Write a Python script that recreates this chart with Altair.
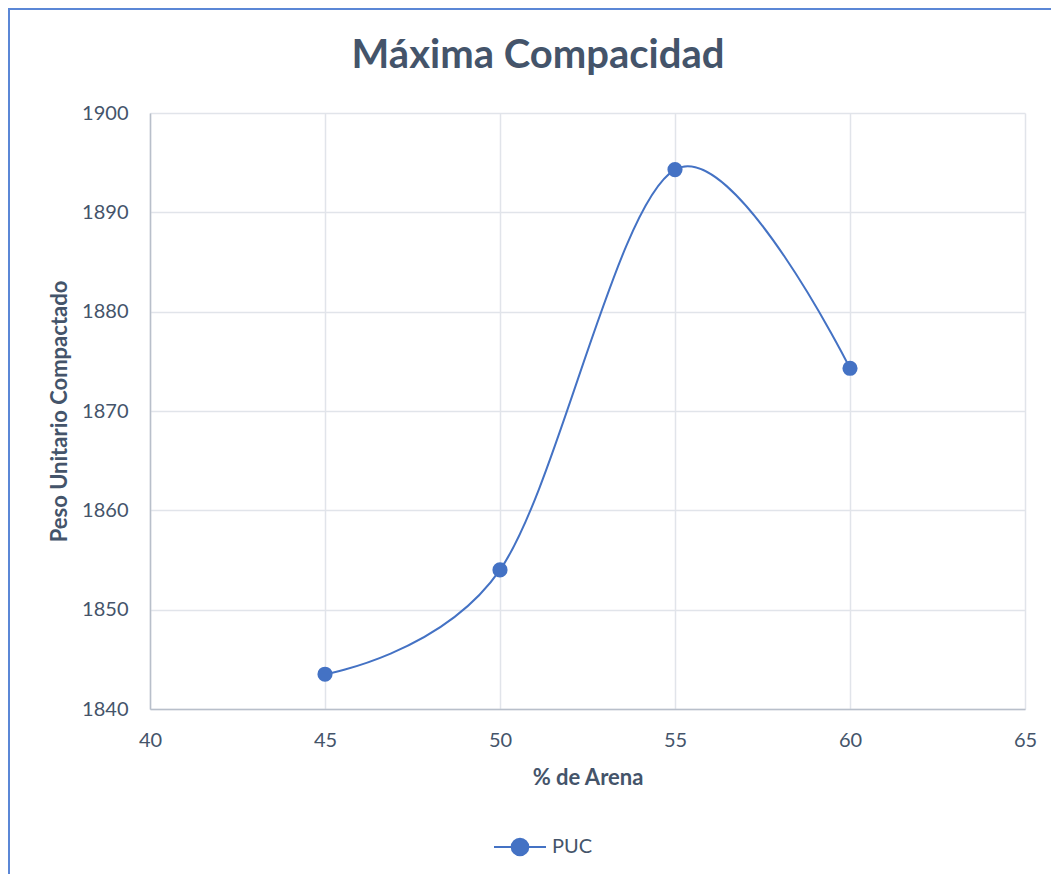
import altair as alt
import pandas as pd

arena = [45, 50, 55, 60]
puc = [1843.5, 1854.0, 1894.3, 1874.3]
serie = ["PUC"] * 4

x_ticks = [40, 45, 50, 55, 60, 65]
y_ticks = [1840, 1850, 1860, 1870, 1880, 1890, 1900]
titulo = "Máxima Compacidad"

df = pd.DataFrame({"arena": arena, "puc": puc, "serie": serie})

TXT = "#44546A"
BLUE = "#4472C4"
FONT = "Lato"

xs = alt.X("arena:Q", title="% de Arena",
           scale=alt.Scale(domain=[40, 65], nice=False, zero=False),
           axis=alt.Axis(values=x_ticks, labelPadding=21, titlePadding=17,
                         labelFlush=False, format="d"))
ys = alt.Y("puc:Q", title="Peso Unitario Compactado",
           scale=alt.Scale(domain=[1840, 1900], nice=False, zero=False),
           axis=alt.Axis(values=y_ticks, labelPadding=22, titlePadding=10, format="d"))
color = alt.Color("serie:N", scale=alt.Scale(domain=["PUC"], range=[BLUE]),
                  legend=alt.Legend(title=None, orient="none", legendX=343, legendY=707,
                                    symbolType="M-1,0H-0.32M0.32,0H1M-0.32,0A0.32,0.32 0 1,1 0.32,0A0.32,0.32 0 1,1 -0.32,0Z",
                                    symbolSize=2704, symbolStrokeWidth=2,
                                    symbolFillColor=BLUE, symbolStrokeColor=BLUE,
                                    labelFontSize=20, labelColor=TXT, labelFont=FONT,
                                    labelOffset=5, padding=0))

line = alt.Chart(df).mark_line(interpolate="cardinal", strokeWidth=2).encode(
    x=xs, y=ys, color=color)
pts = alt.Chart(df).mark_point(filled=True, size=230, opacity=1).encode(
    x="arena:Q", y="puc:Q", color=alt.Color("serie:N", legend=None))

one = pd.DataFrame({"t": [titulo]})
title_t = alt.Chart(one).mark_text(font=FONT, fontSize=40, fontWeight="bold", color=TXT,
                                   align="center", baseline="alphabetic").encode(
    text="t:N", x=alt.value(388), y=alt.value(-45))
left_b = alt.Chart(one).mark_rule(color="#5B87D6", strokeWidth=2).encode(
    x=alt.value(-141), y=alt.value(-105), y2=alt.value(770))
top_b = alt.Chart(one).mark_rule(color="#5B87D6", strokeWidth=2).encode(
    x=alt.value(-142), x2=alt.value(905), y=alt.value(-104))

chart = alt.layer(line, pts, title_t, left_b, top_b).properties(
    width=875, height=596,
    autosize=alt.AutoSizeParams(type="none"),
    padding={"left": 142, "top": 105, "right": 26, "bottom": 165},
).configure_view(stroke=None).configure_axis(
    labelFont=FONT, labelFontSize=20, labelColor=TXT,
    titleFont=FONT, titleFontSize=22, titleFontWeight="bold", titleColor=TXT,
    gridColor="#E1E4EA", gridWidth=1.5, domainColor="#B8BFCA", domainWidth=1.5,
    ticks=False,
)

chart.save("out.html", embed_options={"renderer": "svg", "actions": False})
